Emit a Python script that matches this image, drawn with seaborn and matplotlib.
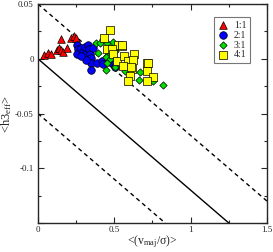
import numpy as np
import pandas as pd
import matplotlib
matplotlib.use('Agg')
import matplotlib.pyplot as plt
from matplotlib.ticker import MultipleLocator, FuncFormatter
import seaborn as sns

# donnees
x_11 = [0.037, 0.065, 0.083, 0.124, 0.135, 0.153, 0.153, 0.164, 0.192, 0.218, 0.236, 0.247]
y_11 = [0.0034, 0.0055, 0.0043, 0.0079, 0.0103, 0.0079, 0.018, 0.0066, 0.0097, 0.019, 0.0206, 0.0188]

x_21 = [0.257, 0.262, 0.257, 0.284, 0.295, 0.306, 0.317, 0.327, 0.332, 0.339, 0.345, 0.349,
        0.349, 0.317, 0.284, 0.360, 0.384, 0.417, 0.428, 0.489, 0.504]
y_21 = [0.0127, 0.0088, 0.0048, 0.0103, 0.0066, 0.0109, 0.0043, 0.0127, 0.0088, 0.0043, 0.0006, -0.0034,
        -0.0103, -0.0012, 0.0027, 0.0103, -0.0034, -0.0018, -0.0048, -0.0048, -0.0079]

x_31 = [0.378, 0.406, 0.428, 0.454, 0.483, 0.493, 0.504, 0.395, 0.45, 0.443, 0.472, 0.45,
        0.504, 0.515, 0.526, 0.445, 0.57, 0.668, 0.663, 0.751, 0.821]
y_31 = [0.014, 0.0148, 0.018, 0.0148, 0.0103, 0.0157, 0.0073, 0.0057, 0.0027, 0.0012, -0.0003, -0.0034,
        -0.0079, -0.0012, -0.0034, -0.0103, -0.011, -0.0125, -0.0194, -0.02, -0.024]

x_41 = [0.472, 0.434, 0.522, 0.552, 0.45, 0.483, 0.493, 0.515, 0.565, 0.631, 0.591, 0.559,
        0.613, 0.602, 0.712, 0.62, 0.723, 0.716, 0.755, 0.716, 0.591, 0.548, 0.607]
y_41 = [0.026, 0.0188, 0.0127, 0.0118, 0.0088, 0.0088, 0.0043, -0.0018, 0.0027, 0.0043, -0.0018, -0.0064,
        -0.0094, -0.0155, -0.0034, -0.0012, -0.0034, -0.011, -0.017, -0.02, -0.02, 0.0127, -0.0079]

line_x = [0.0, 1.5]
slope = -0.12
offsets = [0.05, 0.0, -0.05]

groups = [
    ('1:1', x_11, y_11, '^', '#ff0000', 30),
    ('2:1', x_21, y_21, 'o', '#0000ff', 30),
    ('3:1', x_31, y_31, 'D', '#00e000', 14),
    ('4:1', x_41, y_41, 's', '#ffff00', 28),
]

sns.set_style('ticks')
plt.rcParams['font.family'] = ['Liberation Serif', 'DejaVu Serif']
plt.rcParams['mathtext.fontset'] = 'custom'
plt.rcParams['mathtext.rm'] = 'Liberation Serif'
plt.rcParams['mathtext.it'] = 'Liberation Serif:italic'
plt.rcParams['axes.unicode_minus'] = False

fig, ax = plt.subplots(figsize=(2.73, 2.52), dpi=100)
fig.subplots_adjust(left=0.139, right=0.978, bottom=0.115, top=0.984)

for c in offsets:
    ys = [c + slope * xv for xv in line_x]
    ax.plot(line_x, ys, color='black', lw=1.0,
            linestyle='-' if c == 0 else (0, (3, 2.5)), zorder=1)

for label, xs, ys, m, col, s in groups:
    df = pd.DataFrame({'x': xs, 'y': ys})
    sns.scatterplot(data=df, x='x', y='y', marker=m, color=col, s=s,
                    edgecolor='black', linewidth=0.5, ax=ax, label=label, zorder=3)

ax.set_xlim(0, 1.5)
ax.set_ylim(-0.15, 0.05)
ax.xaxis.set_major_locator(MultipleLocator(0.5))
ax.xaxis.set_minor_locator(MultipleLocator(0.25))
ax.yaxis.set_major_locator(MultipleLocator(0.05))
ax.yaxis.set_minor_locator(MultipleLocator(0.025))
ax.xaxis.set_major_formatter(FuncFormatter(lambda v, p: '%g' % round(v, 3)))
ax.yaxis.set_major_formatter(FuncFormatter(
    lambda v, p: '' if v < -0.14 else '%g' % round(v, 3)))
ax.tick_params(which='both', direction='in', top=True, right=True,
               labelsize=6.5, width=0.8)
ax.tick_params(axis='x', pad=2)
ax.tick_params(axis='y', pad=3)
ax.tick_params(which='major', length=4)
ax.tick_params(which='minor', length=2)
for sp in ax.spines.values():
    sp.set_linewidth(1.0)

ax.set_xlabel(r'<(v$_{\mathrm{maj}}$/σ)>', fontsize=8.5, labelpad=0)
ax.set_ylabel(r'<h3$_{\mathrm{eff}}$>', fontsize=9, labelpad=1)

leg = ax.legend(loc='upper right', bbox_to_anchor=(0.925, 0.94), fontsize=7,
                frameon=True, fancybox=False, handletextpad=0.5,
                borderpad=0.35, labelspacing=0.1, handlelength=1.2,
                borderaxespad=0)
leg.get_frame().set_edgecolor('#555555')
leg.get_frame().set_linewidth(0.8)

plt.savefig('out.png', dpi=100)
plt.close()
